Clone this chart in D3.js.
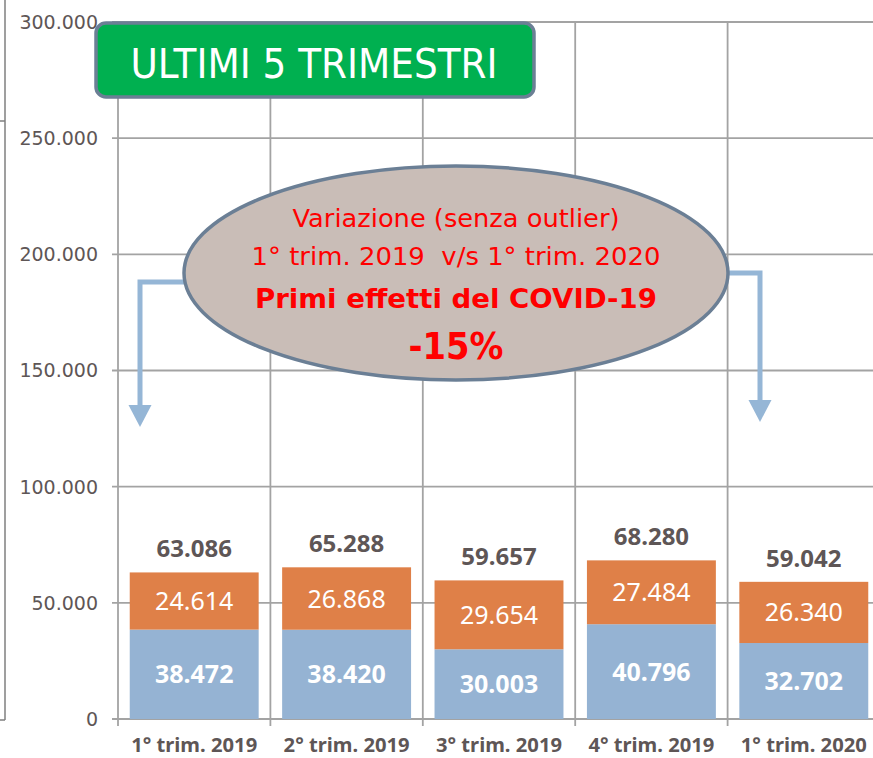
<!DOCTYPE html>
<html>
<head>
<meta charset="utf-8">
<script src="https://cdn.jsdelivr.net/npm/d3@7"></script>
<style>
  body { margin: 0; background: #fff; }
  svg { display: block; }
  text { white-space: pre; }
</style>
</head>
<body>
<svg width="873" height="758"></svg>
<script>
const categories = ["1° trim. 2019", "2° trim. 2019", "3° trim. 2019", "4° trim. 2019", "1° trim. 2020"];
const blueValues = [38472, 38420, 30003, 40796, 32702];
const orangeValues = [24614, 26868, 29654, 27484, 26340];
const totals = [63086, 65288, 59657, 68280, 59042];
const yTicks = [0, 50000, 100000, 150000, 200000, 250000, 300000];

const fmt = v => d3.format(",")(v).replace(/,/g, ".");

const svg = d3.select("svg");
const width = 873, height = 758;

const x = d3.scaleBand()
    .domain(categories)
    .range([118, 880])
    .paddingInner(0.154)
    .paddingOuter(0.077);

const y = d3.scaleLinear()
    .domain([0, 300000])
    .range([719, 22]);

const step = x.step();
const gridColor = "#a3a3a3";
const textGray = "#5e5656";

// outer frame line on the left
svg.append("line")
    .attr("x1", 5).attr("x2", 5).attr("y1", 0).attr("y2", 720)
    .attr("stroke", "#7f7f7f").attr("stroke-width", 1.5);
svg.append("line")
    .attr("x1", 0).attr("x2", 5).attr("y1", 121).attr("y2", 121)
    .attr("stroke", "#7f7f7f").attr("stroke-width", 1.5);
svg.append("line")
    .attr("x1", 0).attr("x2", 5).attr("y1", 720).attr("y2", 720)
    .attr("stroke", "#7f7f7f").attr("stroke-width", 1.5);

// horizontal gridlines
svg.append("g")
    .selectAll("line")
    .data(yTicks)
    .join("line")
    .attr("x1", 112)
    .attr("x2", width)
    .attr("y1", d => y(d))
    .attr("y2", d => y(d))
    .attr("stroke", gridColor)
    .attr("stroke-width", 1.8);

// vertical gridlines at band boundaries
const bounds = categories.map(c => x(c) - step * x.paddingInner() / 2);
bounds.push(bounds[bounds.length - 1] + step);
svg.append("g")
    .selectAll("line")
    .data(bounds)
    .join("line")
    .attr("x1", d => d)
    .attr("x2", d => d)
    .attr("y1", y(300000))
    .attr("y2", 726)
    .attr("stroke", gridColor)
    .attr("stroke-width", 1.8);

// y tick labels
svg.append("g")
    .selectAll("text")
    .data(yTicks)
    .join("text")
    .attr("x", 98)
    .attr("y", d => y(d))
    .attr("dy", "0.36em")
    .attr("text-anchor", "end")
    .attr("font-family", "DejaVu Sans, sans-serif")
    .attr("font-size", 19)
    .attr("fill", textGray)
    .text(d => fmt(d));

// stacked bars
const bars = svg.append("g");
bars.selectAll("rect.blue")
    .data(categories)
    .join("rect")
    .attr("class", "blue")
    .attr("x", d => x(d))
    .attr("width", x.bandwidth())
    .attr("y", (d, i) => y(blueValues[i]))
    .attr("height", (d, i) => y(0) - y(blueValues[i]))
    .attr("fill", "#95b3d3");

bars.selectAll("rect.orange")
    .data(categories)
    .join("rect")
    .attr("class", "orange")
    .attr("x", d => x(d))
    .attr("width", x.bandwidth())
    .attr("y", (d, i) => y(blueValues[i] + orangeValues[i]))
    .attr("height", (d, i) => y(blueValues[i]) - y(blueValues[i] + orangeValues[i]))
    .attr("fill", "#df8048");

// segment labels
const labelFont = "Noto Sans, Open Sans, sans-serif";
bars.selectAll("text.blue")
    .data(categories)
    .join("text")
    .attr("class", "blue")
    .attr("x", d => x(d) + x.bandwidth() / 2)
    .attr("y", (d, i) => (y(0) + y(blueValues[i])) / 2)
    .attr("dy", "0.36em")
    .attr("text-anchor", "middle")
    .attr("font-family", labelFont)
    .attr("font-weight", "bold")
    .attr("font-size", 25)
    .attr("fill", "#fff")
    .text((d, i) => fmt(blueValues[i]));

bars.selectAll("text.orange")
    .data(categories)
    .join("text")
    .attr("class", "orange")
    .attr("x", d => x(d) + x.bandwidth() / 2)
    .attr("y", (d, i) => (y(blueValues[i]) + y(blueValues[i] + orangeValues[i])) / 2)
    .attr("dy", "0.36em")
    .attr("text-anchor", "middle")
    .attr("font-family", labelFont)
    .attr("font-size", 25)
    .attr("fill", "#fff")
    .text((d, i) => fmt(orangeValues[i]));

bars.selectAll("text.total")
    .data(categories)
    .join("text")
    .attr("class", "total")
    .attr("x", d => x(d) + x.bandwidth() / 2)
    .attr("y", (d, i) => y(totals[i]) - 15)
    .attr("text-anchor", "middle")
    .attr("font-family", labelFont)
    .attr("font-weight", "bold")
    .attr("font-size", 24)
    .attr("fill", textGray)
    .text((d, i) => fmt(totals[i]));

// x labels
svg.append("g")
    .selectAll("text")
    .data(categories)
    .join("text")
    .attr("x", d => x(d) + x.bandwidth() / 2)
    .attr("y", 752)
    .attr("text-anchor", "middle")
    .attr("font-family", labelFont)
    .attr("font-weight", "bold")
    .attr("font-size", 19)
    .attr("textLength", 126)
    .attr("lengthAdjust", "spacingAndGlyphs")
    .attr("fill", textGray)
    .text(d => d);

// title box
const title = svg.append("g");
title.append("rect")
    .attr("x", 96).attr("y", 23)
    .attr("width", 438).attr("height", 74)
    .attr("rx", 10)
    .attr("fill", "#00b050")
    .attr("stroke", "#6b7f95")
    .attr("stroke-width", 3.5);
title.append("text")
    .attr("x", 314).attr("y", 78)
    .attr("text-anchor", "middle")
    .attr("font-family", "DejaVu Sans, sans-serif")
    .attr("font-size", 41)
    .attr("textLength", 367)
    .attr("lengthAdjust", "spacingAndGlyphs")
    .attr("fill", "#fff")
    .text("ULTIMI 5 TRIMESTRI");

// arrows
const arrowColor = "#95b6d6";
const arrows = [
    { x0: 185, yh: 282, xv: 140, tip: 427 },
    { x0: 728, yh: 273, xv: 760, tip: 422 }
];
const ag = svg.append("g");
arrows.forEach(a => {
    ag.append("path")
        .attr("d", `M${a.x0},${a.yh} H${a.xv} V${a.tip - 20}`)
        .attr("fill", "none")
        .attr("stroke", arrowColor)
        .attr("stroke-width", 5);
    ag.append("path")
        .attr("d", `M${a.xv - 11.5},${a.tip - 22} L${a.xv + 11.5},${a.tip - 22} L${a.xv},${a.tip} Z`)
        .attr("fill", arrowColor);
});

// ellipse callout
const callout = svg.append("g");
callout.append("ellipse")
    .attr("cx", 456).attr("cy", 273)
    .attr("rx", 272).attr("ry", 107)
    .attr("fill", "#c9bdb7")
    .attr("stroke", "#6b7f95")
    .attr("stroke-width", 3.5);

const calloutLines = [
    { t: "Variazione (senza outlier)", y: 227, size: 25, bold: false, len: 327 },
    { t: "1° trim. 2019  v/s 1° trim. 2020", y: 265, size: 25, bold: false, len: 409 },
    { t: "Primi effetti del COVID-19", y: 308, size: 27, bold: true, len: 402 },
    { t: "-15%", y: 359, size: 37, bold: true, len: 95 }
];
callout.selectAll("text")
    .data(calloutLines)
    .join("text")
    .attr("x", 456)
    .attr("y", d => d.y)
    .attr("text-anchor", "middle")
    .attr("font-family", "DejaVu Sans, sans-serif")
    .attr("font-size", d => d.size)
    .attr("font-weight", d => d.bold ? "bold" : "normal")
    .attr("textLength", d => d.len)
    .attr("lengthAdjust", "spacingAndGlyphs")
    .attr("fill", "#ff0000")
    .text(d => d.t);
</script>
</body>
</html>
